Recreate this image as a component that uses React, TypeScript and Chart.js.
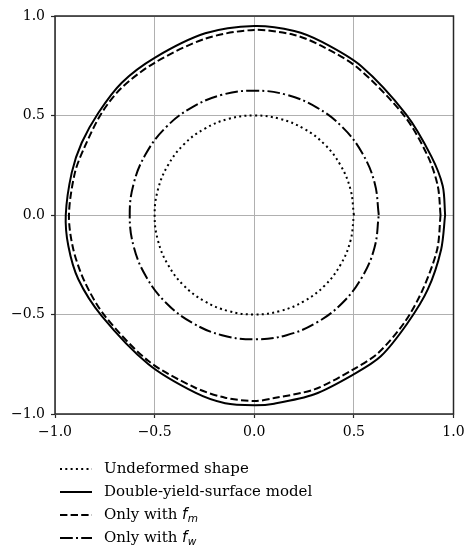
import React, { useEffect, useRef } from "react";
import { Chart, registerables } from "chart.js";

Chart.register(...registerables);

// Undeformed shape (circle, r = 0.5)
const undeformedX = [0.5, 0.483, 0.433, 0.354, 0.25, 0.129, 0, -0.129, -0.25, -0.354, -0.433, -0.483, -0.5, -0.483, -0.433, -0.354, -0.25, -0.129, 0, 0.129, 0.25, 0.354, 0.433, 0.483, 0.5];
const undeformedY = [0, 0.129, 0.25, 0.354, 0.433, 0.483, 0.5, 0.483, 0.433, 0.354, 0.25, 0.129, 0, -0.129, -0.25, -0.354, -0.433, -0.483, -0.5, -0.483, -0.433, -0.354, -0.25, -0.129, 0];

// Double-yield-surface model
const doubleX = [0.958, 0.946, 0.888, 0.762, 0.536, 0.34, 0.201, 0.0, -0.246, -0.5, -0.665, -0.782, -0.866, -0.916, -0.946, -0.933, -0.883, -0.765, -0.531, -0.296, -0.146, 0.0, 0.1, 0.302, 0.5, 0.635, 0.768, 0.871, 0.938, 0.958];
const doubleY = [0.0, 0.146, 0.296, 0.506, 0.749, 0.87, 0.925, 0.95, 0.913, 0.79, 0.665, 0.514, 0.363, 0.213, 0.0, -0.156, -0.323, -0.508, -0.75, -0.893, -0.946, -0.956, -0.948, -0.901, -0.8, -0.71, -0.545, -0.374, -0.173, 0.0];

// Only with f_m
const fmX = [0.935, 0.921, 0.871, 0.754, 0.519, 0.335, 0.201, 0.0, -0.246, -0.5, -0.665, -0.765, -0.849, -0.9, -0.93, -0.908, -0.849, -0.749, -0.531, -0.296, -0.146, 0.0, 0.1, 0.302, 0.486, 0.62, 0.754, 0.846, 0.918, 0.935];
const fmY = [0.0, 0.146, 0.296, 0.497, 0.74, 0.851, 0.905, 0.93, 0.886, 0.765, 0.64, 0.514, 0.347, 0.213, 0.0, -0.173, -0.34, -0.508, -0.734, -0.868, -0.918, -0.935, -0.92, -0.876, -0.782, -0.695, -0.54, -0.374, -0.173, 0.0];

// Only with f_w (circle-like, r = 0.625)
const fwX = [0.625, 0.604, 0.541, 0.442, 0.3125, 0.162, 0, -0.162, -0.3125, -0.442, -0.541, -0.604, -0.625, -0.604, -0.541, -0.442, -0.3125, -0.162, 0, 0.162, 0.3125, 0.442, 0.541, 0.604, 0.625];
const fwY = [0, 0.162, 0.3125, 0.442, 0.541, 0.604, 0.625, 0.604, 0.541, 0.442, 0.3125, 0.162, 0, -0.162, -0.3125, -0.442, -0.541, -0.604, -0.625, -0.604, -0.541, -0.442, -0.3125, -0.162, 0];

const seriesLabels = ["Undeformed shape", "Double-yield-surface model", "Only with f_m", "Only with f_w"];
const tickValues = [-1.0, -0.5, 0.0, 0.5, 1.0];

const toPoints = (xs: number[], ys: number[]) => xs.map((x, i) => ({ x, y: ys[i] }));

const DASHES: number[][] = [[2, 3.3], [], [7.4, 3.2], [12.8, 3.2, 2, 3.2]];

const framePlugin = {
  id: "frameAndLegend",
  afterDraw(chart: any) {
    const { ctx, chartArea } = chart;
    ctx.save();
    ctx.strokeStyle = "#262626";
    ctx.lineWidth = 1.5;
    ctx.setLineDash([]);
    ctx.strokeRect(chartArea.left, chartArea.top, chartArea.right - chartArea.left, chartArea.bottom - chartArea.top);

    // legend
    const datasets = chart.data.datasets;
    datasets.forEach((ds: any, i: number) => {
      const y = chartArea.bottom + 55 + i * 23;
      const x0 = chartArea.left + 5;
      ctx.beginPath();
      ctx.strokeStyle = "#000";
      ctx.lineWidth = 2;
      ctx.lineCap = "butt";
      ctx.setLineDash(ds.borderDash || []);
      ctx.moveTo(x0, y);
      ctx.lineTo(x0 + 32, y);
      ctx.stroke();
      ctx.setLineDash([]);
      const label: string = ds.label;
      ctx.fillStyle = "#000";
      ctx.textBaseline = "middle";
      ctx.textAlign = "left";
      let tx = chartArea.left + 49;
      const parts = label.split("_");
      if (parts.length === 2) {
        const base = parts[0];
        const main = base.slice(0, -1);
        const mathChar = base.slice(-1);
        ctx.font = "15px 'DejaVu Serif'";
        ctx.fillText(main, tx, y);
        tx += ctx.measureText(main).width;
        ctx.font = "italic 15px 'DejaVu Sans'";
        ctx.fillText(mathChar, tx, y);
        tx += ctx.measureText(mathChar).width + 0.5;
        ctx.font = "italic 10.5px 'DejaVu Sans'";
        ctx.fillText(parts[1], tx, y + 4);
      } else {
        ctx.font = "15px 'DejaVu Serif'";
        ctx.fillText(label, tx, y);
      }
    });
    ctx.restore();
  },
};

export default function App() {
  const canvasRef = useRef<HTMLCanvasElement | null>(null);

  useEffect(() => {
    if (!canvasRef.current) return;
    const series = [
      toPoints(undeformedX, undeformedY),
      toPoints(doubleX, doubleY),
      toPoints(fmX, fmY),
      toPoints(fwX, fwY),
    ];
    const tensions = [0.4, 0.3, 0.3, 0.4];
    const chart = new Chart(canvasRef.current, {
      type: "scatter",
      data: {
        datasets: series.map((pts, i) => ({
          label: seriesLabels[i],
          data: pts,
          showLine: true,
          borderColor: "#000",
          backgroundColor: "#000",
          borderWidth: 2,
          borderDash: DASHES[i],
          borderJoinStyle: "round",
          pointRadius: 0,
          pointHoverRadius: 0,
          tension: tensions[i],
          fill: false,
        })),
      },
      options: {
        animation: false,
        responsive: false,
        events: [],
        layout: { padding: { left: 0, top: 16, right: 13.5, bottom: 103 } },
        plugins: { legend: { display: false }, tooltip: { enabled: false } },
        scales: {
          x: {
            type: "linear",
            min: -1,
            max: 1,
            afterBuildTicks: (scale: any) => {
              scale.ticks = tickValues.map((v) => ({ value: v }));
            },
            afterFit: (scale: any) => {
              scale.height = 30;
              scale.paddingLeft = 0;
              scale.paddingRight = 0;
            },
            ticks: {
              color: "#000",
              font: { family: "'DejaVu Serif'", size: 14 },
              padding: 6,
              maxRotation: 0,
              callback: (v: any) => Number(v).toFixed(1).replace("-", "\u2212"),
            },
            grid: { color: "#b0b0b0", lineWidth: 1, tickLength: 4, tickColor: "#262626", tickWidth: 1.2 },
            border: { display: false },
          },
          y: {
            type: "linear",
            min: -1,
            max: 1,
            afterBuildTicks: (scale: any) => {
              scale.ticks = tickValues.map((v) => ({ value: v }));
            },
            afterFit: (scale: any) => {
              scale.width = 55;
              scale.paddingTop = 0;
              scale.paddingBottom = 0;
            },
            ticks: {
              color: "#000",
              font: { family: "'DejaVu Serif'", size: 14 },
              padding: 6,
              callback: (v: any) => Number(v).toFixed(1).replace("-", "\u2212"),
            },
            grid: { color: "#b0b0b0", lineWidth: 1, tickLength: 4, tickColor: "#262626", tickWidth: 1.2 },
            border: { display: false },
          },
        },
      },
      plugins: [framePlugin],
    });
    return () => chart.destroy();
  }, []);

  return (
    <div style={{ position: "fixed", left: 0, top: 0, width: 467, height: 547, background: "#fff" }}>
      <canvas ref={canvasRef} width={467} height={547} style={{ width: 467, height: 547 }} />
    </div>
  );
}
